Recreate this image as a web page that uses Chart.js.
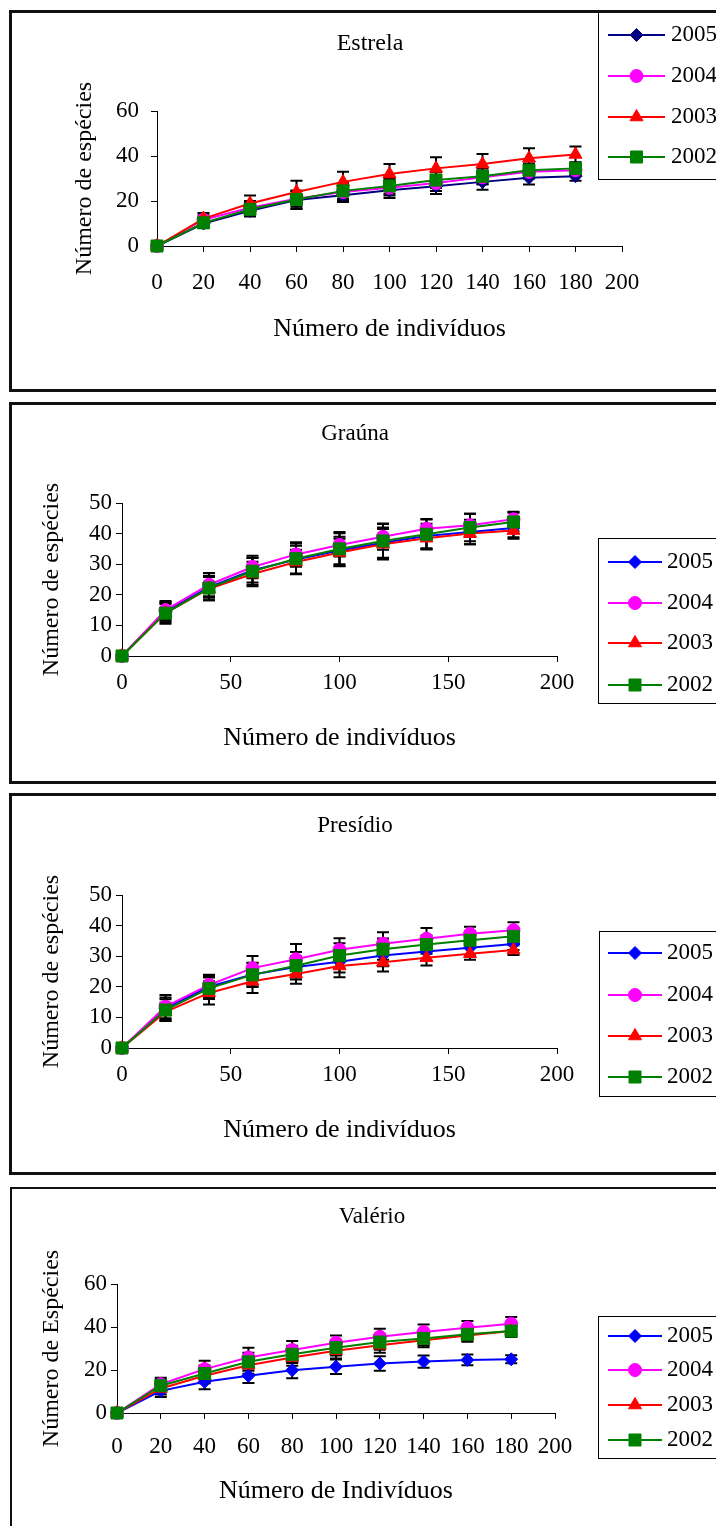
<!DOCTYPE html>
<html lang="pt">
<head>
<meta charset="utf-8">
<title>Curvas de rarefação</title>
<script src="https://cdn.jsdelivr.net/npm/chart.js@4.4.1/dist/chart.umd.min.js"></script>
<style>
  html, body { margin: 0; padding: 0; background: #fff; }
  body { width: 716px; height: 1526px; position: relative; overflow: hidden; }
  .painel { position: absolute; box-sizing: border-box; border: 3px solid #111; background: #fff; }
  .grafico { position: absolute; left: 12px; }
</style>
</head>
<body>
<div class="painel" style="left:9px;top:10px;width:730px;height:382px"></div>
<div class="painel" style="left:9px;top:402px;width:730px;height:382px"></div>
<div class="painel" style="left:9px;top:793px;width:730px;height:382px"></div>
<div class="painel" style="left:10px;top:1187px;width:730px;height:360px;border-width:2px"></div>

<canvas id="estrela" class="grafico" width="704" height="376" style="top:13px"></canvas>
<canvas id="grauna" class="grafico" width="704" height="376" style="top:405px"></canvas>
<canvas id="presidio" class="grafico" width="704" height="376" style="top:796px"></canvas>
<canvas id="valerio" class="grafico" width="704" height="336" style="top:1190px"></canvas>

<script>
// eixo x: número de indivíduos amostrados
const individuos = [0, 20, 40, 60, 80, 100, 120, 140, 160, 180];
const anos = ['2005', '2004', '2003', '2002'];

// Estrela
const estrela2005 = [0, 10, 15.6, 20.4, 22.6, 24.8, 26.6, 28.5, 30.3, 31];
const estrela2004 = [0, 11.7, 17, 21, 24, 25.9, 28, 30.5, 33, 33.7];
const estrela2003 = [0, 12.2, 18.9, 24, 28.5, 32, 34.5, 36.4, 39, 40.7];
const estrela2002 = [0, 10.3, 16.3, 20.7, 24.5, 26.7, 29.3, 31, 33.7, 34.5];
const estrelaErro2005 = [0, 2, 2.5, 4, 3, 3.5, 3.5, 3.5, 3, 2];
const estrelaErro2004 = [0, 2, 3, 3.5, 3.5, 3.5, 3.5, 3, 3, 2.5];
const estrelaErro2003 = [0, 2.5, 3.5, 5, 4.5, 4.5, 5, 4.5, 4.5, 3.5];
const estrelaErro2002 = [0, 2, 3, 4, 3.5, 3.5, 3.5, 3.5, 3, 2.5];

// Graúna
const grauna2005 = [0, 14.5, 22.5, 28, 31.5, 34.5, 37, 39.2, 40.5, 41.8];
const grauna2004 = [0, 15, 23.3, 29.1, 33.2, 36.3, 39, 41.6, 42.7, 44.7];
const grauna2003 = [0, 14, 22, 26.8, 30.7, 33.8, 36.5, 38.5, 40, 41];
const grauna2002 = [0, 14, 22.2, 27.7, 31.8, 35, 37.6, 39.8, 42, 43.8];
const graunaErro2005 = [0, 3, 3.5, 4, 4.5, 4.5, 5, 4, 4, 3];
const graunaErro2004 = [0, 3, 3.8, 3.7, 4, 3.8, 4.3, 3, 3.8, 2.4];
const graunaErro2003 = [0, 3, 3.8, 4, 4, 4.5, 5, 3.5, 3.5, 2.7];
const graunaErro2002 = [0, 3.5, 4, 4.4, 5, 5.5, 5.5, 5, 4.5, 3];

// Presídio
const presidio2005 = [0, 13, 20, 24, 26.5, 28.2, 30.2, 31.5, 32.8, 34];
const presidio2004 = [0, 13.5, 20.6, 26.1, 29, 32.1, 34.1, 35.7, 37.3, 38.5];
const presidio2003 = [0, 11.8, 18, 21.8, 24.2, 26.8, 28, 29.5, 30.8, 32];
const presidio2002 = [0, 12.4, 19.5, 23.9, 26.9, 30.2, 32.3, 33.8, 35.2, 36.5];
const presidioErro2005 = [0, 3.5, 3.5, 3.8, 3.5, 3.5, 3.5, 3, 2.5, 2];
const presidioErro2004 = [0, 3.8, 3.3, 4, 5, 3.8, 3.7, 3.5, 2.3, 2.6];
const presidioErro2003 = [0, 3, 3.8, 3.8, 3.2, 3.7, 3, 2.5, 2, 1.6];
const presidioErro2002 = [0, 3.5, 3.5, 4, 4.5, 4, 3.5, 3, 2.5, 2];

// Valério
const valerio2005 = [0, 10.3, 14.5, 17.3, 19.9, 21.5, 23, 23.9, 24.7, 25];
const valerio2004 = [0, 13.4, 20.4, 25.8, 29.3, 32.7, 35.5, 37.7, 39.7, 41.5];
const valerio2003 = [0, 11.4, 17.3, 22.2, 25.8, 28.9, 31.5, 33.8, 36.1, 38.1];
const valerio2002 = [0, 12.7, 18.4, 23.8, 27.3, 30.4, 33, 34.7, 36.6, 38.1];
const valerioErro2005 = [0, 2.8, 3.4, 3.4, 3.7, 3.4, 3.4, 2.8, 2.5, 1.9];
const valerioErro2004 = [0, 3, 3.9, 4.6, 4.2, 3.4, 3.7, 3.5, 3.1, 3.1];
const valerioErro2003 = [0, 2.8, 3.5, 4, 3.8, 3.5, 3.5, 3.2, 3, 2.8];
const valerioErro2002 = [0, 3, 3.7, 4.2, 4, 3.6, 3.6, 3.3, 3, 2.8];

const coresEstrela = ['#000080', '#ff00ff', '#ff0000', '#008000'];
const coresOutros = ['#0000ff', '#ff00ff', '#ff0000', '#008000'];
const marcadores = ['rectRot', 'circle', 'triangle', 'rect'];
const raios = [6.5, 6.5, 7.5, 8.5];

const familia = '"Liberation Serif", "Times New Roman", serif';
const fonte = { family: familia, size: 23 };
const fonteEixoX = { family: familia, size: 26 };
const fonteEixoY = { family: familia, size: 24 };

// barras de erro pretas com traço no topo e na base
const barrasErro = {
  id: 'barrasErro',
  beforeDatasetsDraw(chart) {
    const ctx = chart.ctx, sy = chart.scales.y, sx = chart.scales.x;
    ctx.save();
    ctx.strokeStyle = '#000';
    ctx.lineWidth = 2;
    chart.data.datasets.forEach(ds => {
      ds.data.forEach((p, i) => {
        const e = ds.erros[i];
        if (!e) return;
        const x = sx.getPixelForValue(p.x);
        const y1 = sy.getPixelForValue(p.y + e), y2 = sy.getPixelForValue(p.y - e);
        ctx.beginPath();
        ctx.moveTo(x, y1); ctx.lineTo(x, y2);
        ctx.moveTo(x - 6, y1); ctx.lineTo(x + 6, y1);
        ctx.moveTo(x - 6, y2); ctx.lineTo(x + 6, y2);
        ctx.stroke();
      });
    });
    ctx.restore();
  }
};

// título do painel e legenda em caixa à direita
const tituloLegenda = {
  id: 'tituloLegenda',
  afterDraw(chart, args, o) {
    const ctx = chart.ctx;
    ctx.save();
    ctx.font = o.tamTitulo + 'px ' + familia;
    ctx.fillStyle = '#000';
    ctx.textAlign = 'center';
    ctx.textBaseline = 'middle';
    ctx.fillText(o.titulo, o.tx, o.ty);

    ctx.font = '23px ' + familia;
    ctx.strokeStyle = '#000';
    ctx.lineWidth = 1;
    ctx.strokeRect(o.left + 0.5, o.top + 0.5, 300, o.bottom - o.top);
    chart.data.datasets.forEach((ds, i) => {
      const y = o.linhas[i];
      ctx.strokeStyle = ds.borderColor;
      ctx.lineWidth = 2;
      ctx.beginPath(); ctx.moveTo(o.x1, y); ctx.lineTo(o.x2, y); ctx.stroke();
      ctx.fillStyle = ds.backgroundColor;
      ctx.lineWidth = 1;
      Chart.helpers.drawPoint(ctx, { pointStyle: ds.pointStyle, radius: ds.pointRadius, borderWidth: 1, rotation: 0 }, (o.x1 + o.x2) / 2, y);
      ctx.fillStyle = '#000';
      ctx.textAlign = 'left';
      ctx.fillText(ds.label, o.x3, y);
    });
    ctx.restore();
  }
};

function serie(i, valores, erros, cores) {
  return {
    label: anos[i],
    data: individuos.map((x, k) => ({ x: x, y: valores[k] })),
    erros: erros,
    borderColor: cores[i],
    backgroundColor: cores[i],
    borderWidth: 2,
    pointStyle: marcadores[i],
    pointRadius: raios[i],
    pointHoverRadius: raios[i],
    pointBorderWidth: 1,
    tension: 0,
    clip: false,
    order: 3 - i
  };
}

function grafico(id, p) {
  new Chart(document.getElementById(id), {
    type: 'line',
    data: { datasets: p.series },
    plugins: [barrasErro, tituloLegenda],
    options: {
      responsive: false,
      animation: false,
      events: [],
      layout: { padding: { left: p.pl, right: p.pr, top: p.pt, bottom: p.pb } },
      plugins: {
        legend: { display: false },
        title: { display: false },
        tooltip: { enabled: false },
        tituloLegenda: p.leg
      },
      scales: {
        x: {
          type: 'linear', min: 0, max: 200,
          ticks: { stepSize: p.passoX, padding: p.padX, color: '#000', font: fonte, maxRotation: 0, autoSkip: false },
          grid: { drawOnChartArea: false, drawTicks: true, tickLength: 6, color: '#000' },
          border: { display: true, color: '#000', width: 1 },
          title: { display: true, text: p.tituloX, color: '#000', font: fonteEixoX, padding: { top: 0, bottom: p.padTitX } },
          afterFit: s => { s.height = 100; }
        },
        y: {
          min: 0, max: p.maxY,
          ticks: { stepSize: p.passoY, padding: p.padY, color: '#000', font: fonte },
          grid: { drawOnChartArea: false, drawTicks: true, tickLength: 6, color: '#000' },
          border: { display: true, color: '#000', width: 1 },
          title: { display: true, text: p.tituloY, color: '#000', font: fonteEixoY, padding: { top: p.padTitY, bottom: 0 } },
          afterFit: s => { s.width = p.largY; }
        }
      }
    }
  });
}

grafico('estrela', {
  series: [
    serie(0, estrela2005, estrelaErro2005, coresEstrela),
    serie(1, estrela2004, estrelaErro2004, coresEstrela),
    serie(2, estrela2003, estrelaErro2003, coresEstrela),
    serie(3, estrela2002, estrelaErro2002, coresEstrela)
  ],
  pl: 40, pr: 94, pt: 98, pb: 43, largY: 105, padTitY: 18, padY: 12,
  maxY: 60, passoY: 20, passoX: 20, padX: 17, padTitX: 1,
  tituloX: 'Número de indivíduos', tituloY: 'Número de espécies',
  leg: { titulo: 'Estrela', tamTitulo: 24, tx: 358, ty: 31, left: 586, top: -3, bottom: 166, linhas: [22, 63, 104, 144], x1: 596, x2: 653, x3: 659 }
});

grafico('grauna', {
  series: [
    serie(0, grauna2005, graunaErro2005, coresOutros),
    serie(1, grauna2004, graunaErro2004, coresOutros),
    serie(2, grauna2003, graunaErro2003, coresOutros),
    serie(3, grauna2002, graunaErro2002, coresOutros)
  ],
  pl: 10, pr: 159, pt: 98, pb: 25, largY: 100, padTitY: 15, padY: 4,
  maxY: 50, passoY: 10, passoX: 50, padX: 7, padTitX: 2,
  tituloX: 'Número de indivíduos', tituloY: 'Número de espécies',
  leg: { titulo: 'Graúna', tamTitulo: 23, tx: 343, ty: 29, left: 586, top: 133, bottom: 298, linhas: [157, 198, 238, 280], x1: 596, x2: 650, x3: 655 }
});

grafico('presidio', {
  series: [
    serie(0, presidio2005, presidioErro2005, coresOutros),
    serie(1, presidio2004, presidioErro2004, coresOutros),
    serie(2, presidio2003, presidioErro2003, coresOutros),
    serie(3, presidio2002, presidioErro2002, coresOutros)
  ],
  pl: 10, pr: 159, pt: 99, pb: 24, largY: 100, padTitY: 15, padY: 4,
  maxY: 50, passoY: 10, passoX: 50, padX: 7, padTitX: 2,
  tituloX: 'Número de indivíduos', tituloY: 'Número de espécies',
  leg: { titulo: 'Presídio', tamTitulo: 23, tx: 343, ty: 30, left: 587, top: 135, bottom: 300, linhas: [157, 199, 240, 281], x1: 596, x2: 650, x3: 655 }
});

grafico('valerio', {
  series: [
    serie(0, valerio2005, valerioErro2005, coresOutros),
    serie(1, valerio2004, valerioErro2004, coresOutros),
    serie(2, valerio2003, valerioErro2003, coresOutros),
    serie(3, valerio2002, valerioErro2002, coresOutros)
  ],
  pl: 10, pr: 161, pt: 94, pb: 13, largY: 95, padTitY: 15, padY: 4,
  maxY: 60, passoY: 20, passoX: 20, padX: 14, padTitX: 6,
  tituloX: 'Número de Indivíduos', tituloY: 'Número de Espécies',
  leg: { titulo: 'Valério', tamTitulo: 23, tx: 360, ty: 27, left: 586, top: 126, bottom: 268, linhas: [146, 180, 215, 250], x1: 596, x2: 650, x3: 655 }
});
</script>
</body>
</html>
